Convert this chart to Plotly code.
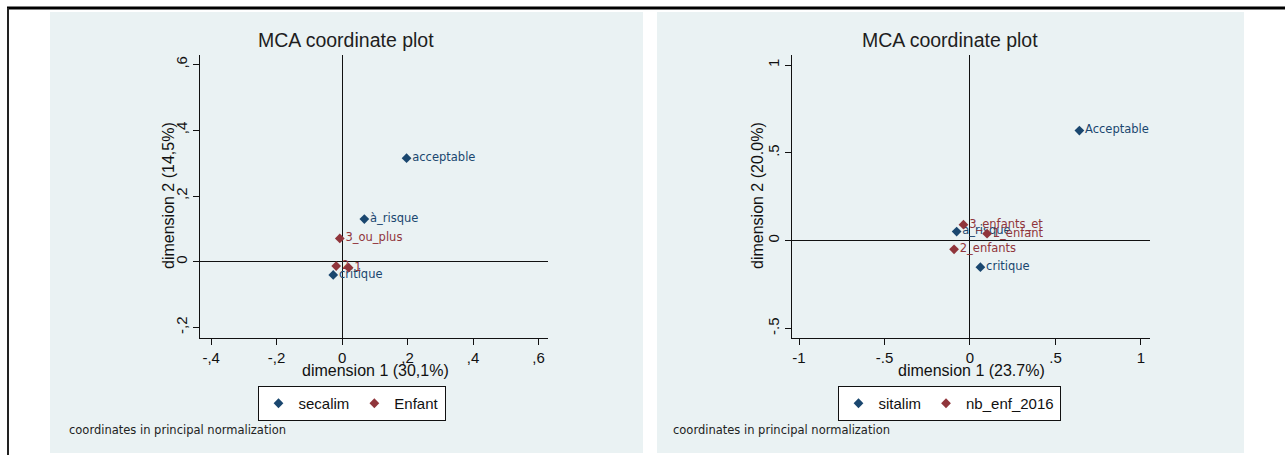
import plotly.graph_objects as go

W, H = 1285, 455

# ---- data: MCA coordinates (principal normalization) ----
# left panel
sec_labels = ["acceptable", "à_risque", "critique"]
sec_x = [0.197, 0.068, -0.027]
sec_y = [0.315, 0.130, -0.040]

enf_labels = ["1", "2", "3_ou_plus"]
enf_x = [0.020, -0.018, -0.007]
enf_y = [-0.018, -0.013, 0.071]

# right panel
sit_labels = ["Acceptable", "à_risque", "critique"]
sit_x = [0.640, -0.078, 0.061]
sit_y = [0.627, 0.052, -0.151]

nb_labels = ["1_enfant", "2_enfants", "3_enfants_et"]
nb_x = [0.100, -0.093, -0.038]
nb_y = [0.040, -0.049, 0.091]

# tick labels
left_xticks = [-0.4, -0.2, 0, 0.2, 0.4, 0.6]
left_xtext = ["-,4", "-,2", "0", ",2", ",4", ",6"]
left_yticks = [-0.2, 0, 0.2, 0.4, 0.6]
left_ytext = ["-,2", "0", ",2", ",4", ",6"]
right_xticks = [-1, -0.5, 0, 0.5, 1]
right_xtext = ["-1", "-.5", "0", ".5", "1"]
right_yticks = [-0.5, 0, 0.5, 1]
right_ytext = ["-.5", "0", ".5", "1"]

NAVY = "#1a476f"
MAROON = "#90353b"
BG = "#eaf2f3"
FONT = "Liberation Sans"
SMALL_FONT = "DejaVu Sans"


def px(x):
    return x / W


def py(y):
    return 1 - y / H


fig = go.Figure()

label_font = dict(family=SMALL_FONT, size=11.5)

fig.add_trace(go.Scatter(x=sec_x, y=sec_y, text=sec_labels, name="secalim",
                         mode="markers+text", textposition="middle right",
                         marker=dict(symbol="diamond", size=7.5, color=NAVY),
                         textfont=dict(label_font, color=NAVY),
                         xaxis="x", yaxis="y", legend="legend"))
fig.add_trace(go.Scatter(x=enf_x, y=enf_y, text=enf_labels, name="Enfant",
                         mode="markers+text", textposition="middle right",
                         marker=dict(symbol="diamond", size=7.5, color=MAROON),
                         textfont=dict(label_font, color=MAROON),
                         xaxis="x", yaxis="y", legend="legend"))
fig.add_trace(go.Scatter(x=sit_x, y=sit_y, text=sit_labels, name="sitalim",
                         mode="markers+text", textposition="middle right",
                         marker=dict(symbol="diamond", size=7.5, color=NAVY),
                         textfont=dict(label_font, color=NAVY),
                         xaxis="x2", yaxis="y2", legend="legend2"))
fig.add_trace(go.Scatter(x=nb_x, y=nb_y, text=nb_labels, name="nb_enf_2016",
                         mode="markers+text", textposition="middle right",
                         marker=dict(symbol="diamond", size=7.5, color=MAROON),
                         textfont=dict(label_font, color=MAROON),
                         xaxis="x2", yaxis="y2", legend="legend2"))

tickfont = dict(family=FONT, size=15, color="#111")
common_x = dict(showline=True, linecolor="#111", linewidth=1, ticks="outside",
                ticklen=6, tickcolor="#111", showgrid=False, zeroline=True,
                zerolinecolor="#111", zerolinewidth=1, tickfont=tickfont,
                fixedrange=True)
common_y = dict(showline=True, linecolor="#111", linewidth=1, ticks="outside",
                ticklen=6, tickcolor="#111", showgrid=True, gridcolor=BG,
                gridwidth=1, zeroline=True, zerolinecolor="#111",
                zerolinewidth=1, tickangle=-90, tickfont=tickfont,
                fixedrange=True)

legend_font = dict(family=FONT, size=15, color="#111")

plot_top, plot_bot = 55, 338
fig.update_layout(
    width=W, height=H,
    margin=dict(l=0, r=0, t=0, b=0),
    paper_bgcolor="white", plot_bgcolor="white",
    xaxis=dict(common_x, domain=[px(200), px(548)], range=[-0.434, 0.629],
               tickmode="array", tickvals=left_xticks, ticktext=left_xtext,
               anchor="y"),
    yaxis=dict(common_y, domain=[py(plot_bot), py(plot_top)],
               range=[-0.232, 0.629], tickmode="array",
               tickvals=left_yticks, ticktext=left_ytext, anchor="x"),
    xaxis2=dict(common_x, domain=[px(792), px(1150)], range=[-1.041, 1.053],
                tickmode="array", tickvals=right_xticks, ticktext=right_xtext,
                anchor="y2"),
    yaxis2=dict(common_y, domain=[py(plot_bot), py(plot_top)],
                range=[-0.554, 1.057], tickmode="array",
                tickvals=right_yticks, ticktext=right_ytext, anchor="x2"),
    legend=dict(orientation="h", x=px(351.5), xanchor="center",
                y=py(386), yanchor="top", bgcolor="white",
                bordercolor="#111", borderwidth=1, font=legend_font,
                itemwidth=30, entrywidth=0),
    legend2=dict(orientation="h", x=px(949), xanchor="center",
                 y=py(386), yanchor="top", bgcolor="white",
                 bordercolor="#111", borderwidth=1, font=legend_font,
                 itemwidth=30),
    showlegend=True,
)

# graph region backgrounds and outer frame
shapes = [
    dict(type="rect", xref="paper", yref="paper", x0=px(50), x1=px(643),
         y0=py(453), y1=py(12), fillcolor=BG, line_width=0, layer="below"),
    dict(type="rect", xref="paper", yref="paper", x0=px(657), x1=px(1244),
         y0=py(453), y1=py(12), fillcolor=BG, line_width=0, layer="below"),
    dict(type="line", xref="paper", yref="paper", x0=px(7), x1=1,
         y0=py(8), y1=py(8), line=dict(color="#000", width=3)),
    dict(type="line", xref="paper", yref="paper", x0=px(8), x1=px(8),
         y0=py(8), y1=0, line=dict(color="#222", width=2)),
]
fig.update_layout(shapes=shapes)

annotations = []
for cx in (346, 950):
    annotations.append(dict(text="MCA coordinate plot", x=px(cx), y=py(40),
                            xref="paper", yref="paper", showarrow=False,
                            xanchor="center", yanchor="middle",
                            font=dict(family=FONT, size=19.5, color="#1e1e1e")))
axis_title_font = dict(family=FONT, size=16, color="#111")
annotations += [
    dict(text="dimension 1 (30,1%)", x=px(375), y=py(370), xref="paper",
         yref="paper", showarrow=False, xanchor="center", yanchor="middle",
         font=axis_title_font),
    dict(text="dimension 1 (23.7%)", x=px(971), y=py(370), xref="paper",
         yref="paper", showarrow=False, xanchor="center", yanchor="middle",
         font=axis_title_font),
    dict(text="dimension 2 (14,5%)", x=px(168), y=py(196), xref="paper",
         yref="paper", showarrow=False, xanchor="center", yanchor="middle",
         textangle=-90, font=axis_title_font),
    dict(text="dimension 2 (20.0%)", x=px(757), y=py(196), xref="paper",
         yref="paper", showarrow=False, xanchor="center", yanchor="middle",
         textangle=-90, font=axis_title_font),
    dict(text="coordinates in principal normalization", x=px(67), y=py(430),
         xref="paper", yref="paper", showarrow=False, xanchor="left",
         yanchor="middle", font=dict(family=SMALL_FONT, size=11.5, color="#222")),
    dict(text="coordinates in principal normalization", x=px(671), y=py(430),
         xref="paper", yref="paper", showarrow=False, xanchor="left",
         yanchor="middle", font=dict(family=SMALL_FONT, size=11.5, color="#222")),
]
fig.update_layout(annotations=annotations)

fig.write_html("out.html")
